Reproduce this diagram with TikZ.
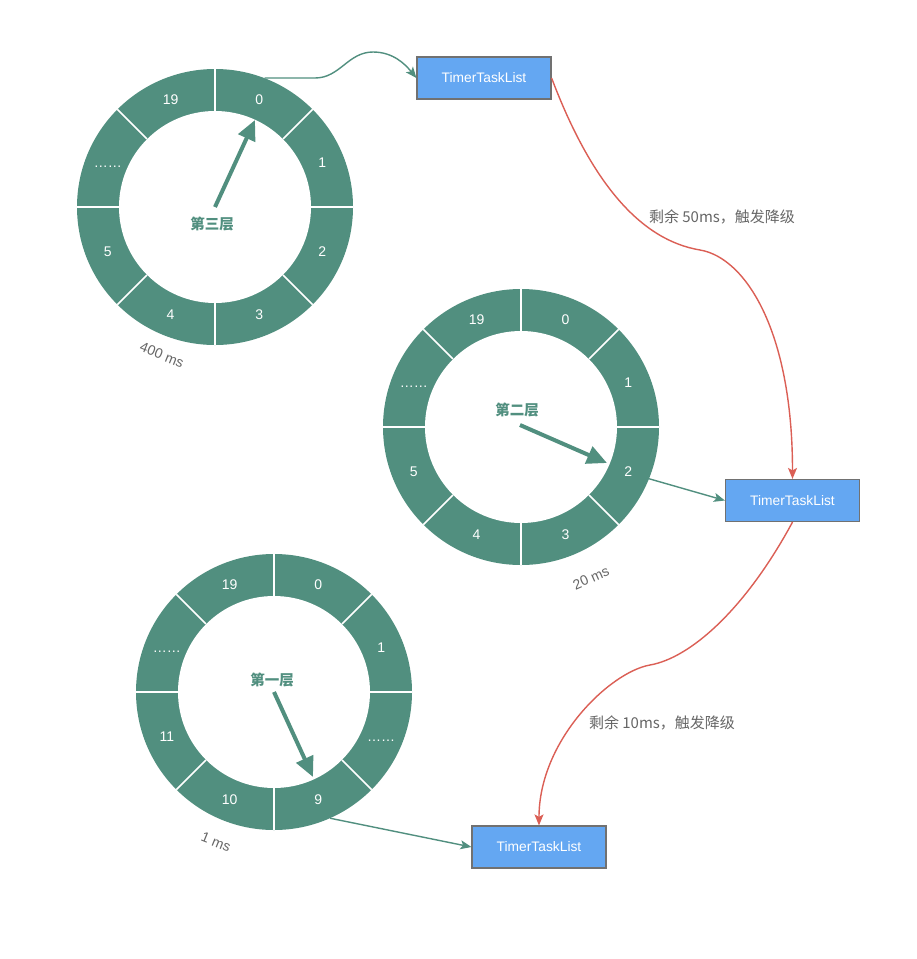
\documentclass[tikz,border=0pt]{standalone}
\usepackage{fontspec}
\setmainfont{Liberation Sans}
\newfontfamily\cjk{Noto Sans CJK SC}
\usetikzlibrary{arrows.meta}
\definecolor{ringc}{HTML}{518F7F}
\definecolor{boxc}{HTML}{64A7F2}
\definecolor{boxb}{HTML}{717171}
\definecolor{redc}{HTML}{DB5F55}
\definecolor{txtg}{HTML}{666666}
\begin{document}
\begin{tikzpicture}[x=1pt,y=-1pt,
 ringdisk/.style={circle, fill=ringc, minimum size=276pt, inner sep=0pt},
 hubdisk/.style={circle, fill=white, minimum size=192pt, inner sep=0pt},
 divider/.style={white, line width=1.6pt},
 seglabel/.style={text=white, font=\fontsize{14}{14}\selectfont, inner sep=0pt, text height=10pt, text depth=0pt},
 layerlabel/.style={text=ringc, font=\cjk\bfseries\fontsize{14.5}{14.5}\selectfont, inner sep=0pt},
 pointer/.style={draw=ringc, line width=4pt, -{Triangle[length=20pt,width=18pt]}},
 tasklist/.style={draw=boxb, line width=1.2pt, fill=boxc, minimum width=134pt, minimum height=42pt, inner sep=0pt, text=white, font=\fontsize{13.8}{13.8}\selectfont},
 tealarrow/.style={draw=ringc, line width=1.4pt, -{Stealth[length=11pt,width=9pt,inset=2.5pt]}},
 redarrow/.style={draw=redc, line width=1.4pt, -{Stealth[length=11pt,width=9pt,inset=2.5pt]}},
 edgelabel/.style={text=txtg, font=\cjk\fontsize{15}{15}\selectfont, inner sep=0pt},
 scalelabel/.style={text=txtg, font=\fontsize{14}{14}\selectfont, inner sep=0pt}
]
\useasboundingbox (0,0) rectangle (917,959);
\fill[white] (0,0) rectangle (917,959);

% rings
\node[ringdisk] (ring1) at (215,207) {};
\node[hubdisk] (hub1) at (215,207) {};
\node[ringdisk] (ring2) at (521,427) {};
\node[hubdisk] (hub2) at (521,427) {};
\node[ringdisk] (ring3) at (274,692) {};
\node[hubdisk] (hub3) at (274,692) {};
\foreach \r in {1,2,3}{
  \foreach \a in {0,45,...,315}
    \draw[divider] (hub\r.\a) -- (ring\r.\a);
}

% segment labels
\foreach \p/\t in {-67.5/0, -22.5/1, 22.5/2, 67.5/3, 112.5/4, 157.5/5, 202.5/{……}, 247.5/19}
  \node[seglabel] at ([shift={(\p:116)}]ring1.center) {\t};
\foreach \p/\t in {-67.5/0, -22.5/1, 22.5/2, 67.5/3, 112.5/4, 157.5/5, 202.5/{……}, 247.5/19}
  \node[seglabel] at ([shift={(\p:116)}]ring2.center) {\t};
\foreach \p/\t in {-67.5/0, -22.5/1, 22.5/{……}, 67.5/9, 112.5/10, 157.5/11, 202.5/{……}, 247.5/19}
  \node[seglabel] at ([shift={(\p:116)}]ring3.center) {\t};

% pointers
\coordinate (tip1) at (255,120);
\coordinate (tip2) at (607,463);
\coordinate (tip3) at (313,777);
\draw[pointer] (ring1.center) -- (tip1);
\draw[pointer] (ring2.center) ++(-1,-2) -- (tip2);
\draw[pointer] (ring3.center) -- (tip3);

% layer labels
\node[layerlabel] (l3) at (212,224) {第三层};
\node[layerlabel] (l2) at (517,410) {第二层};
\node[layerlabel] (l1) at (272,680) {第一层};

% scale labels
\node[scalelabel, rotate=-22] (s1) at (162,355) {400 ms};
\node[scalelabel, rotate=24] (s2) at (591,578) {20 ms};
\node[scalelabel, rotate=-22] (s3) at (216,842) {1 ms};

% task lists
\node[tasklist] (tl1) at (484,78) {TimerTaskList};
\node[tasklist] (tl2) at (792.5,500.5) {TimerTaskList};
\node[tasklist] (tl3) at (539,847) {TimerTaskList};

% connectors
\draw[tealarrow] (ring1.69) -- (315,78) .. controls (340,78) and (348,52) .. (373,52) .. controls (393,52) and (405,64) .. (tl1.west);
\draw[tealarrow] (ring2.-22.5) -- (tl2.west);
\draw[tealarrow] (ring3.-66) -- (tl3.west);
\draw[redarrow] (tl1.east) .. controls (591,182) and (640,240) .. (700,250) .. controls (745,257.5) and (792.5,330) .. (tl2.north);
\draw[redarrow] (tl2.south) .. controls (745,610) and (690,658) .. (650,665) .. controls (610,672) and (539,740) .. (tl3.north);

% edge labels
\node[edgelabel] (e1) at (722,217) {剩余 50ms，触发降级};
\node[edgelabel] (e2) at (662,723) {剩余 10ms，触发降级};
\end{tikzpicture}
\end{document}
